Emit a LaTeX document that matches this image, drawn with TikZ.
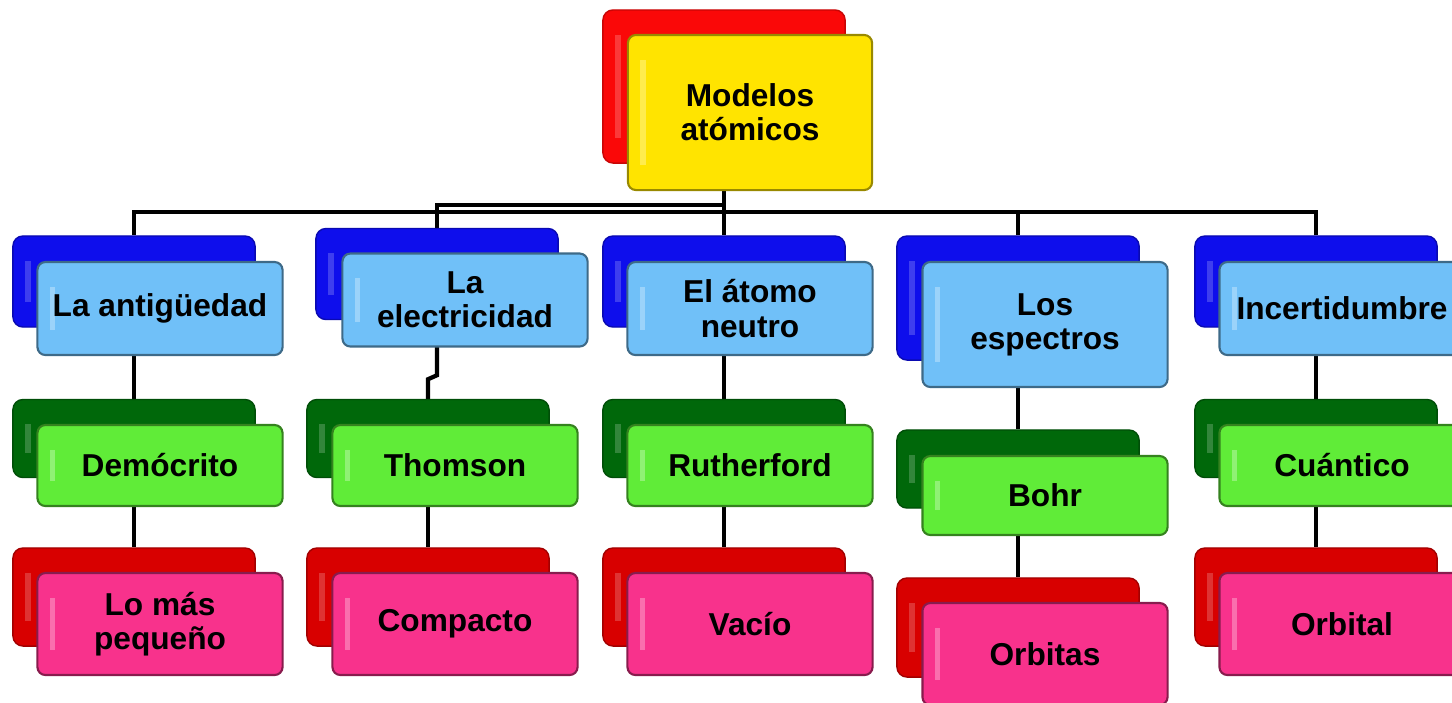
\documentclass[tikz,border=0pt]{standalone}
\usepackage{fontspec}
\setmainfont{Liberation Sans}
\usepackage{tikz}
\usetikzlibrary{backgrounds}

\definecolor{rootred}{RGB}{250,8,8}
\definecolor{rootyellow}{RGB}{255,228,0}
\definecolor{deepblue}{RGB}{14,14,236}
\definecolor{skyblue}{RGB}{112,192,248}
\definecolor{deepgreen}{RGB}{0,104,10}
\definecolor{limegreen}{RGB}{96,236,56}
\definecolor{darkred}{RGB}{216,0,0}
\definecolor{hotpink}{RGB}{248,50,140}

\tikzset{
  gloss/.style={path picture={\fill[white,opacity=#1,sharp corners]
      ([xshift=3.5pt,yshift=-7pt]path picture bounding box.north west)
      rectangle ([xshift=5pt,yshift=7pt]path picture bounding box.south west);}},
  back/.style={rectangle, rounded corners=0.1cm, minimum width=2.42cm, inner sep=0pt, gloss=.2},
  front/.style={rectangle, rounded corners=0.08cm, minimum width=2.45cm, inner sep=0pt,
    align=center, font=\fontsize{9}{9.7}\selectfont\bfseries, line width=0.6pt, gloss=.3},
  rootback/.style={back, fill=rootred, draw=rootred!80!black},
  rootfront/.style={front, fill=rootyellow, draw=rootyellow!60!black},
  blueback/.style={back, fill=deepblue, draw=deepblue!75!black},
  bluefront/.style={front, fill=skyblue, draw=skyblue!55!black},
  greenback/.style={back, fill=deepgreen, draw=deepgreen!75!black},
  greenfront/.style={front, fill=limegreen, draw=limegreen!55!black},
  redback/.style={back, fill=darkred, draw=darkred!75!black},
  pinkfront/.style={front, fill=hotpink, draw=hotpink!55!black},
  link/.style={draw=black, line width=1.2pt}
}

\begin{document}
\begin{tikzpicture}[x=0.01cm,y=-0.01cm]
\clip (0,0) rectangle (1452,702);

% root
\node[rootback, minimum height=1.53cm] (topk) at (724,86.5) {};
\node[rootfront, minimum width=2.44cm, minimum height=1.55cm] (top) at (750,112.5) {Modelos\\at\'omicos};

% first row
\node[blueback, minimum height=0.91cm] (a1k) at (134,281.5) {};
\node[bluefront, minimum height=0.93cm] (a1) at (160,308.5) {La antig\"uedad};
\node[blueback, minimum height=0.91cm] (b1k) at (437,274) {};
\node[bluefront, minimum height=0.93cm] (b1) at (465,300) {La\\electricidad};
\node[blueback, minimum height=0.91cm] (c1k) at (724,281.5) {};
\node[bluefront, minimum height=0.93cm] (c1) at (750,308.5) {El \'atomo\\neutro};
\node[blueback, minimum height=1.24cm] (d1k) at (1018,298) {};
\node[bluefront, minimum height=1.25cm] (d1) at (1045,324.5) {Los\\espectros};
\node[blueback, minimum height=0.91cm] (e1k) at (1316,281.5) {};
\node[bluefront, minimum height=0.93cm] (e1) at (1342,308.5) {Incertidumbre};

% second row
\node[greenback, minimum height=0.78cm] (a2k) at (134,438.5) {};
\node[greenfront, minimum height=0.81cm] (a2) at (160,465.5) {Dem\'ocrito};
\node[greenback, minimum height=0.78cm] (b2k) at (428,438.5) {};
\node[greenfront, minimum height=0.81cm] (b2) at (455,465.5) {Thomson};
\node[greenback, minimum height=0.78cm] (c2k) at (724,438.5) {};
\node[greenfront, minimum height=0.81cm] (c2) at (750,465.5) {Rutherford};
\node[greenback, minimum height=0.78cm] (d2k) at (1018,469) {};
\node[greenfront, minimum height=0.79cm] (d2) at (1045,495.5) {Bohr};
\node[greenback, minimum height=0.78cm] (e2k) at (1316,438.5) {};
\node[greenfront, minimum height=0.81cm] (e2) at (1342,465.5) {Cu\'antico};

% third row
\node[redback, minimum height=0.98cm] (a3k) at (134,597) {};
\node[pinkfront, minimum height=1.02cm] (a3) at (160,624) {Lo m\'as\\peque\~no};
\node[redback, minimum height=0.98cm] (b3k) at (428,597) {};
\node[pinkfront, minimum height=1.02cm] (b3) at (455,624) {Compacto};
\node[redback, minimum height=0.98cm] (c3k) at (724,597) {};
\node[pinkfront, minimum height=1.02cm] (c3) at (750,624) {Vac\'io};
\node[redback, minimum height=0.99cm] (d3k) at (1018,627.5) {};
\node[pinkfront, minimum height=1.02cm] (d3) at (1045,654) {Orbitas};
\node[redback, minimum height=0.98cm] (e3k) at (1316,597) {};
\node[pinkfront, minimum height=1.02cm] (e3) at (1342,624) {Orbital};

% connectors behind the boxes
\begin{scope}[on background layer]
\coordinate (bus) at (724,212);
\coordinate (bustwo) at (724,205);
\draw[link] (topk.south) -- (bus);
\draw[link] (a1k.north) |- (bus);
\draw[link] (b1k.north) |- (bustwo);
\draw[link] (c1k.north) -- (bus);
\draw[link] (d1k.north) |- (bus);
\draw[link] (e1k.north) |- (bus);

\draw[link] (a1k.south) -- (a2k.north);
\draw[link] (b1k.south) -- ++(0,55) -- ++(-9,4) -- (b2k.north);
\draw[link] (c1k.south) -- (c2k.north);
\draw[link] (d1k.south) -- (d2k.north);
\draw[link] (e1k.south) -- (e2k.north);

\draw[link] (a2k.south) -- (a3k.north);
\draw[link] (b2k.south) -- (b3k.north);
\draw[link] (c2k.south) -- (c3k.north);
\draw[link] (d2k.south) -- (d3k.north);
\draw[link] (e2k.south) -- (e3k.north);
\end{scope}
\end{tikzpicture}
\end{document}
